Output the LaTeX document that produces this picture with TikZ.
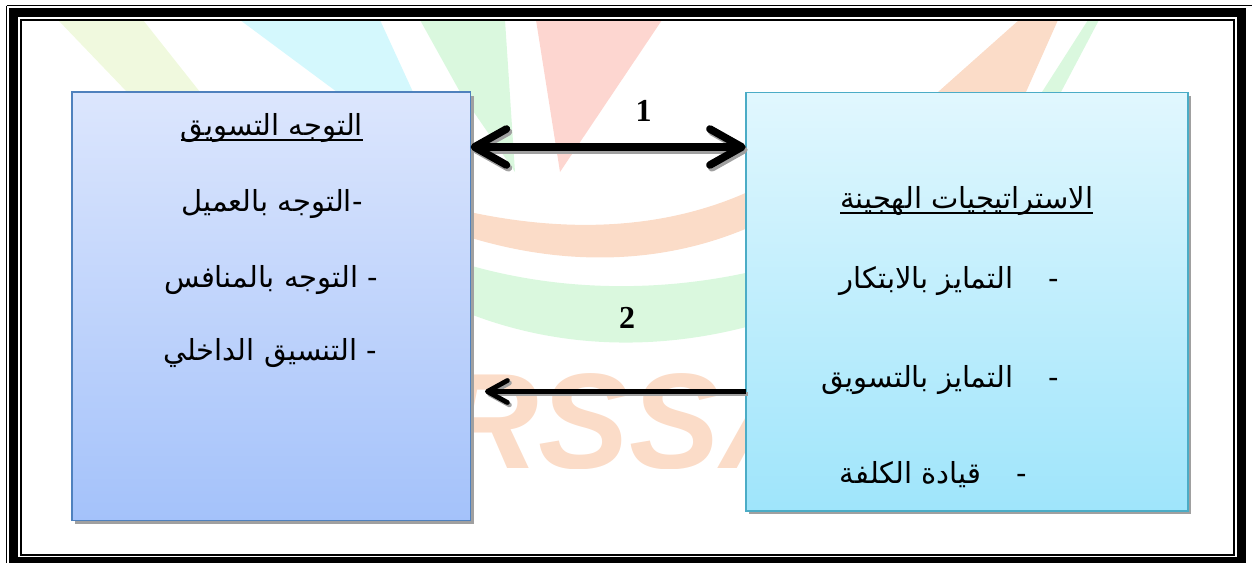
\documentclass[tikz,border=0pt]{standalone}
\usepackage{fontspec}
\TeXXeTstate=1
\newfontfamily\arabicfont[Script=Arabic]{DejaVu Sans}
\newfontfamily\numfont{Liberation Serif}
\newfontfamily\wmfont{Liberation Sans}
\usetikzlibrary{arrows.meta,shadows}
\definecolor{lbtop}{HTML}{DCE6FD}
\definecolor{lbbot}{HTML}{A4C2FA}
\definecolor{lbline}{HTML}{4F81BD}
\definecolor{rbtop}{HTML}{E1F7FE}
\definecolor{rbbot}{HTML}{9FE5FB}
\definecolor{rbline}{HTML}{4BACC6}
\definecolor{shadowgray}{HTML}{A0A0A0}
\definecolor{wmred}{HTML}{FDD6D0}
\definecolor{wmgreen}{HTML}{DAF8DE}
\definecolor{wmcyan}{HTML}{D4F8FD}
\definecolor{wmyellow}{HTML}{F0F9DE}
\definecolor{wmorange}{HTML}{FBDCC8}
\newcommand\myul[1]{\setbox0\hbox{\beginR#1\endR}\rlap{\rule[-0.22em]{\wd0}{0.07em}}\box0}
\tikzset{
  boxL/.style={draw=lbline, line width=0.8pt, top color=lbtop, bottom color=lbbot,
    minimum width=199.3pt, minimum height=214.3pt, inner sep=0pt, outer sep=0pt,
    general shadow={fill=shadowgray, shadow xshift=1.6pt, shadow yshift=-1.8pt}},
  boxR/.style={draw=rbline, line width=0.8pt, top color=rbtop, bottom color=rbbot,
    minimum width=221.2pt, minimum height=209.2pt, inner sep=0pt, outer sep=0pt,
    general shadow={fill=shadowgray, shadow xshift=1.6pt, shadow yshift=-1.8pt}},
  txt/.style={font=\arabicfont\fontsize{14.5}{17}\selectfont, inner sep=0pt, anchor=base},
  num/.style={font=\numfont\bfseries\fontsize{16}{18}\selectfont, inner sep=0pt},
  arrowA/.style={line width=3.8pt, {Straight Barb[round,length=16pt,width=18pt]}-{Straight Barb[round,length=16pt,width=18pt]}},
  arrowB/.style={line width=2.4pt, -{Straight Barb[round,length=10pt,width=11pt]}},
}
\begin{document}
\begin{tikzpicture}[x=0.5pt,y=-0.5pt]
\useasboundingbox (0,0) rectangle (1252,562);
% watermark
\fill[wmyellow] (58,20) -- (143,20) -- (200,92) -- (127,92) -- cycle;
\fill[wmcyan] (240,20) -- (380,20) -- (413,92) -- (337,92) -- cycle;
\fill[wmgreen] (420,20) -- (505,20) -- (515,172) -- (460,92) -- cycle;
\fill[wmred] (536,20) -- (662,20) -- (560,172) -- cycle;
\fill[wmorange] (1019,20) -- (1058,20) -- (1026,92) -- (938,92) -- cycle;
\fill[wmgreen] (1088,20) -- (1099,20) -- (1061,92) -- (1042,92) -- cycle;
\fill[wmorange] (465,211) .. controls (560,232) and (660,232) .. (750,191) -- (750,227) .. controls (660,266) and (560,266) .. (465,236) -- cycle;
\fill[wmgreen] (465,264) .. controls (560,292) and (660,292) .. (750,272) -- (750,326) .. controls (660,350) and (560,350) .. (465,312) -- cycle;
\begin{scope}
\clip (440,360) rectangle (760,468);
\node[font=\wmfont\bfseries\itshape\fontsize{68}{70}\selectfont, text=wmorange, inner sep=0pt, anchor=base west] (wm) at (440,468) {RSSA};
\end{scope}
% frame
\draw[line width=0.75pt] (6.5,5.5) -- (1262,5.5);
\draw[line width=0.75pt] (6.5,5.5) -- (6.5,572);
\draw[line width=4.5pt] (13.5,12.5) rectangle (1241.5,561.5);
\draw[line width=1pt] (21,20) rectangle (1233.5,555);
% boxes
\node[boxL] (L) at (271.3,306.3) {};
\node[boxR] (R) at (966.9,301.5) {};
% left texts
\node[txt] (l0) at (272,135) {\myul{التوجه التسويق}};
\node[txt] (l1) at (272,211) {\beginR\hbox{-}التوجه بالعميل\endR};
\node[txt] (l2) at (271,287) {\beginR\hbox{-} التوجه بالمنافس\endR};
\node[txt] (l3) at (270,360) {\beginR\hbox{-} التنسيق الداخلي\endR};
% right texts
\node[txt] (r0) at (966.7,208) {\myul{الاستراتيجيات الهجينة}};
\node[txt, anchor=base east] (r1) at (1059,288) {\beginR\hbox{-}\hspace{1.2em}التمايز بالابتكار\endR};
\node[txt, anchor=base east] (r2) at (1059,387) {\beginR\hbox{-}\hspace{1.2em}التمايز بالتسويق\endR};
\node[txt, anchor=base east] (r3) at (1027,483) {\beginR\hbox{-}\hspace{1.2em}قيادة الكلفة\endR};
% numbers
\node[num] (n1) at (643.5,111) {1};
\node[num] (n2) at (627,318) {2};
% arrows
\coordinate (ya) at (0,147);
\coordinate (yb) at (0,391.5);
\coordinate (tipB) at (485,391.5);
\draw[arrowA, shadowgray, transform canvas={shift={(1pt,-1.4pt)}}] (L.east |- ya) -- (R.west |- ya);
\draw[arrowA] (L.east |- ya) -- (R.west |- ya);
\draw[arrowB, shadowgray, transform canvas={shift={(1pt,-1.2pt)}}] (R.west |- yb) -- (tipB);
\draw[arrowB] (R.west |- yb) -- (tipB);
\end{tikzpicture}
\end{document}
